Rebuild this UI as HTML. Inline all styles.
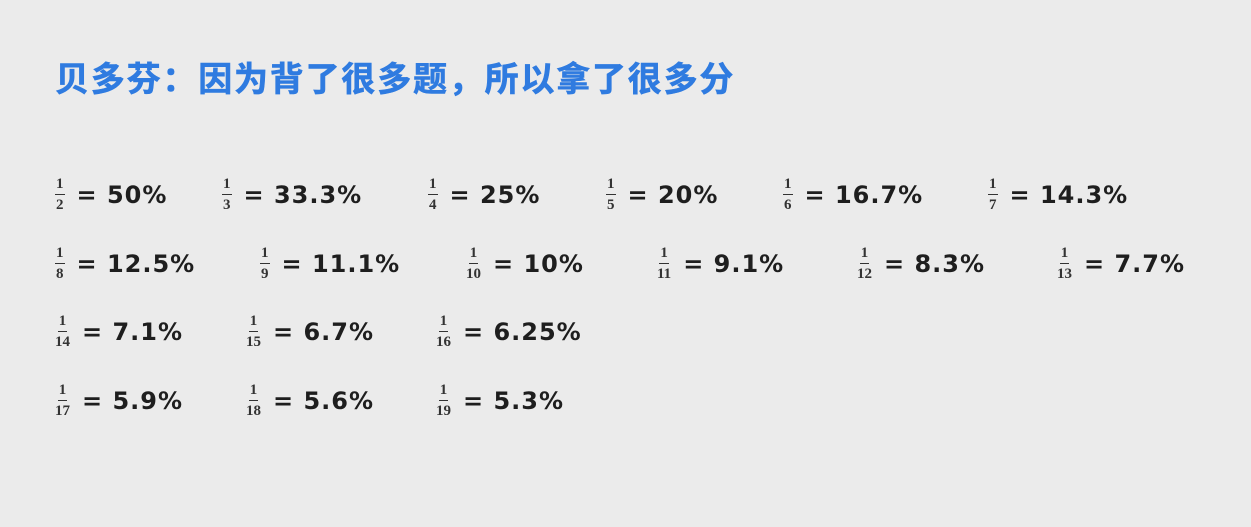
<!DOCTYPE html>
<html><head><meta charset="utf-8"><style>
html,body{margin:0;padding:0}
body{width:1251px;height:527px;background:#ebebeb;position:relative;overflow:hidden;font-family:"Liberation Sans","Noto Sans CJK SC",sans-serif}
.title{position:absolute;left:55px;top:58px;font-size:34px;font-weight:bold;color:#2f7be0;letter-spacing:1.8px;line-height:44px;white-space:nowrap;font-family:"Liberation Sans","Noto Sans CJK SC",sans-serif;-webkit-text-stroke:0.6px #2f7be0}
.item{position:absolute;display:flex;align-items:center;height:50px;white-space:nowrap;color:#1e1e1e}
.frac{display:inline-flex;flex-direction:column;align-items:center;font-family:"Liberation Serif",serif;font-weight:bold;font-size:15px;line-height:15px;color:#333}
.frac .n{border-bottom:1.5px solid #333;padding:0 1px 2px}
.frac .d{padding-top:3px}
.val{font-family:"DejaVu Sans",sans-serif;font-weight:bold;font-size:24px;letter-spacing:1px;margin-left:12px}
</style></head><body>
<div class="title">贝多芬：因为背了很多题，所以拿了很多分</div>
<div id="grid"></div>
<script>
const denominators=[2,3,4,5,6,7,8,9,10,11,12,13,14,15,16,17,18,19];
const percents=["50%","33.3%","25%","20%","16.7%","14.3%","12.5%","11.1%","10%","9.1%","8.3%","7.7%","7.1%","6.7%","6.25%","5.9%","5.6%","5.3%"];
const rowX=[[55,222,428,606,783,988],[55,260,466,657,857,1057],[55,246,436],[55,246,436]];
const rowY=[170,239,307,376];
const grid=document.getElementById('grid');
let k=0;
rowX.forEach((xs,r)=>{xs.forEach(x=>{
 const it=document.createElement('div');
 it.className='item';
 
 
 it.style.left=x+'px';it.style.top=rowY[r]+'px';
 it.innerHTML='<span class="frac"><span class="n">1</span><span class="d">'+denominators[k]+'</span></span><span class="val">= '+percents[k]+'</span>';
 grid.appendChild(it);k++;
});});
</script>
</body></html>
